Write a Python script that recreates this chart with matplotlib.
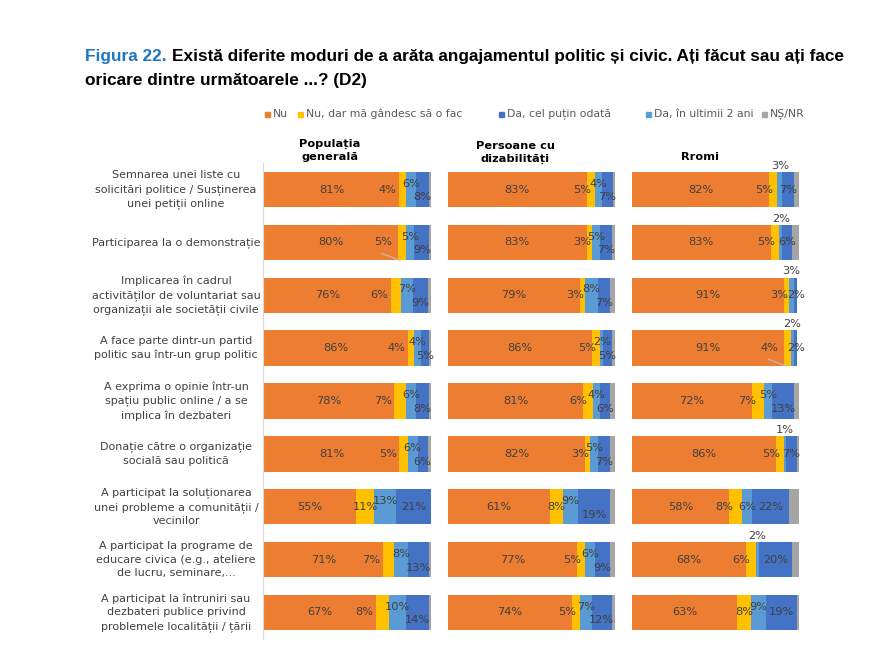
import numpy as np
import matplotlib
matplotlib.use("Agg")
import matplotlib.pyplot as plt
from matplotlib.patches import Rectangle
from matplotlib.transforms import blended_transform_factory

# --- data ---
categories = [
    "Semnarea unei liste cu\nsolicitări politice / Susținerea\nunei petiții online",
    "Participarea la o demonstrație",
    "Implicarea în cadrul\nactivităților de voluntariat sau\norganizații ale societății civile",
    "A face parte dintr-un partid\npolitic sau într-un grup politic",
    "A exprima o opinie într-un\nspațiu public online / a se\nimplica în dezbateri",
    "Donație către o organizație\nsocială sau politică",
    "A participat la soluționarea\nunei probleme a comunității /\nvecinilor",
    "A participat la programe de\neducare civica (e.g., ateliere\nde lucru, seminare,...",
    "A participat la întruniri sau\ndezbateri publice privind\nproblemele localității / țării",
]
groups = ["Populația\ngenerală", "Persoane cu\ndizabilități", "Rromi"]
legend_labels = ["Nu", "Nu, dar mă gândesc să o fac", "Da, cel puțin odată",
                 "Da, în ultimii 2 ani", "NȘ/NR"]

# Populatia generala
nu_pg = [81, 80, 76, 86, 78, 81, 55, 71, 67]
gand_pg = [4, 5, 6, 4, 7, 5, 11, 7, 8]
ult2_pg = [6, 5, 7, 4, 6, 6, 13, 8, 10]
odata_pg = [8, 9, 9, 5, 8, 6, 21, 13, 14]
ns_pg = [1, 1, 2, 1, 1, 2, 0, 1, 1]

# Persoane cu dizabilitati
nu_pcd = [83, 83, 79, 86, 81, 82, 61, 77, 74]
gand_pcd = [5, 3, 3, 5, 6, 3, 8, 5, 5]
ult2_pcd = [4, 5, 8, 2, 4, 5, 9, 6, 7]
odata_pcd = [7, 7, 7, 5, 6, 7, 19, 9, 12]
ns_pcd = [1, 2, 3, 2, 3, 3, 3, 3, 2]

# Rromi
nu_rr = [82, 83, 91, 91, 72, 86, 58, 68, 63]
gand_rr = [5, 5, 3, 4, 7, 5, 8, 6, 8]
ult2_rr = [3, 2, 3, 2, 5, 1, 6, 2, 9]
odata_rr = [7, 6, 2, 2, 13, 7, 22, 20, 19]
ns_rr = [3, 4, 0, 0, 3, 1, 6, 4, 1]

panels = [
    [nu_pg, gand_pg, ult2_pg, odata_pg, ns_pg],
    [nu_pcd, gand_pcd, ult2_pcd, odata_pcd, ns_pcd],
    [nu_rr, gand_rr, ult2_rr, odata_rr, ns_rr],
]

# --- style / layout ---
C_NU, C_GAND, C_ODATA, C_ULT2, C_NS = "#ED7D31", "#FFC000", "#4472C4", "#5B9BD5", "#A5A5A5"
bar_colors = [C_NU, C_GAND, C_ULT2, C_ODATA, C_NS]       # stacking order in the bars
legend_colors = [C_NU, C_GAND, C_ODATA, C_ULT2, C_NS]    # order in the legend
TXT = "#404040"
BAR_H = 0.67

# label placement (hand tuned like the original)
yel_mode = [
    ["l", "lead", "l", "l", "l", "l", "c", "l", "l"],
    ["l", "l", "l", "l", "l", "l", "c", "l", "l"],
    ["l", "l", "l", "lead", "l", "l", "l", "l", "c"],
]
yel_dx = [-1.5, 2.5, 2.5]
lb_pos = [
    ["up"] * 9,
    ["up"] * 9,
    ["above", "above", "above", "above", "up", "above", "mid", "above", "up"],
]
db_pos = [
    ["down"] * 6 + ["mid"] + ["down"] * 2,
    ["down"] * 9,
    ["mid"] * 4 + ["down"] + ["mid"] * 4,
]
dy = {"up": -0.11, "mid": 0.0, "down": 0.15}

W, H = 875, 663


def fx(px):
    return px / W


def fy(py):
    return 1 - py / H


fig = plt.figure(figsize=(W / 100, H / 100), dpi=100)
fig.patch.set_facecolor("white")

ax_left = [264, 448, 632]
ax_w = 167
top_px, bot_px = 163.1, 638.9

axes = []
for gi, series in enumerate(panels):
    ax = fig.add_axes([fx(ax_left[gi]), fy(bot_px), ax_w / W, (bot_px - top_px) / H])
    axes.append(ax)
    rows = np.arange(len(categories))
    left = np.zeros(len(categories))
    for vals, col in zip(series, bar_colors):
        ax.barh(rows, vals, left=left, height=BAR_H, color=col, linewidth=0)
        left += np.array(vals)
    ax.set_xlim(0, 100)
    ax.set_ylim(len(categories) - 0.5, -0.5)
    ax.set_xticks([])
    ax.set_yticks([])
    for sp in ax.spines.values():
        sp.set_visible(False)
    if gi == 0:
        ax.spines["left"].set_visible(True)
        ax.spines["left"].set_color("#d9d9d9")
        ax.spines["left"].set_position(("outward", 1))

    kw = dict(fontsize=8.2, color=TXT, clip_on=False)
    for r in rows:
        nu, gd, u2, od, ns = (s[r] for s in series)
        ax.text(nu / 2, r, f"{nu}%", ha="center", va="center", **kw)
        m = yel_mode[gi][r]
        if m == "c":
            ax.text(nu + gd / 2, r, f"{gd}%", ha="center", va="center", **kw)
        elif m == "lead":
            ax.text(nu - 3.5, r, f"{gd}%", ha="right", va="center", **kw)
            ax.plot([nu - 9.5, nu + 1.5], [r + 0.21, r + 0.34], color="#bfbfbf",
                    lw=0.8, clip_on=False)
        else:
            ax.text(nu + yel_dx[gi], r, f"{gd}%", ha="right", va="center", **kw)
        xc = nu + gd + u2 / 2
        p = lb_pos[gi][r]
        if p == "above":
            ax.text(xc, r - BAR_H / 2 - 0.02, f"{u2}%", ha="center", va="bottom", **kw)
        else:
            ax.text(xc, r + dy[p], f"{u2}%", ha="center", va="center", **kw)
        xc = nu + gd + u2 + od / 2
        ax.text(xc, r + dy[db_pos[gi][r]], f"{od}%", ha="center", va="center", **kw)

# category labels
tr = blended_transform_factory(fig.transFigure, axes[0].transData)
for r, cat in enumerate(categories):
    axes[0].text(fx(176), r, cat, transform=tr, ha="center", va="center",
                 fontsize=8.0, color=TXT, linespacing=1.45)

# panel headers
hdr_kw = dict(ha="center", va="center", fontsize=8.2, fontweight="bold",
              color="black", linespacing=1.4)
fig.text(fx(330), fy(150.5), groups[0], **hdr_kw)
fig.text(fx(515), fy(152.5), groups[1], **hdr_kw)
fig.text(fx(700), fy(157), groups[2], **hdr_kw)

# legend (drawn by hand to keep the original spacing)
sq_x = [265, 298, 499, 646, 762]
for x, lab, col in zip(sq_x, legend_labels, legend_colors):
    fig.patches.append(Rectangle((fx(x), fy(116.5)), 5 / W, 5 / H, color=col,
                                 transform=fig.transFigure, figure=fig))
    fig.text(fx(x + 8), fy(114), lab, ha="left", va="center", fontsize=7.8, color="#595959")

# title
title_font = ["Liberation Sans Narrow", "Liberation Sans", "DejaVu Sans"]
TS = 12.4
t1 = fig.text(fx(85), fy(57), "Figura 22.", ha="left", va="center", fontsize=TS,
              fontweight="bold", color="#1F77C0", family=title_font)
fig.canvas.draw()
bb = t1.get_window_extent()
fig.text(bb.x1 / W + fx(5), fy(57),
         "Există diferite moduri de a arăta angajamentul politic și civic. Ați făcut sau ați face",
         ha="left", va="center", fontsize=TS, fontweight="bold", color="black",
         family=title_font)
fig.text(fx(85), fy(80), "oricare dintre următoarele ...? (D2)", ha="left", va="center",
         fontsize=TS, fontweight="bold", color="black", family=title_font)

fig.savefig("out.png", dpi=100)
